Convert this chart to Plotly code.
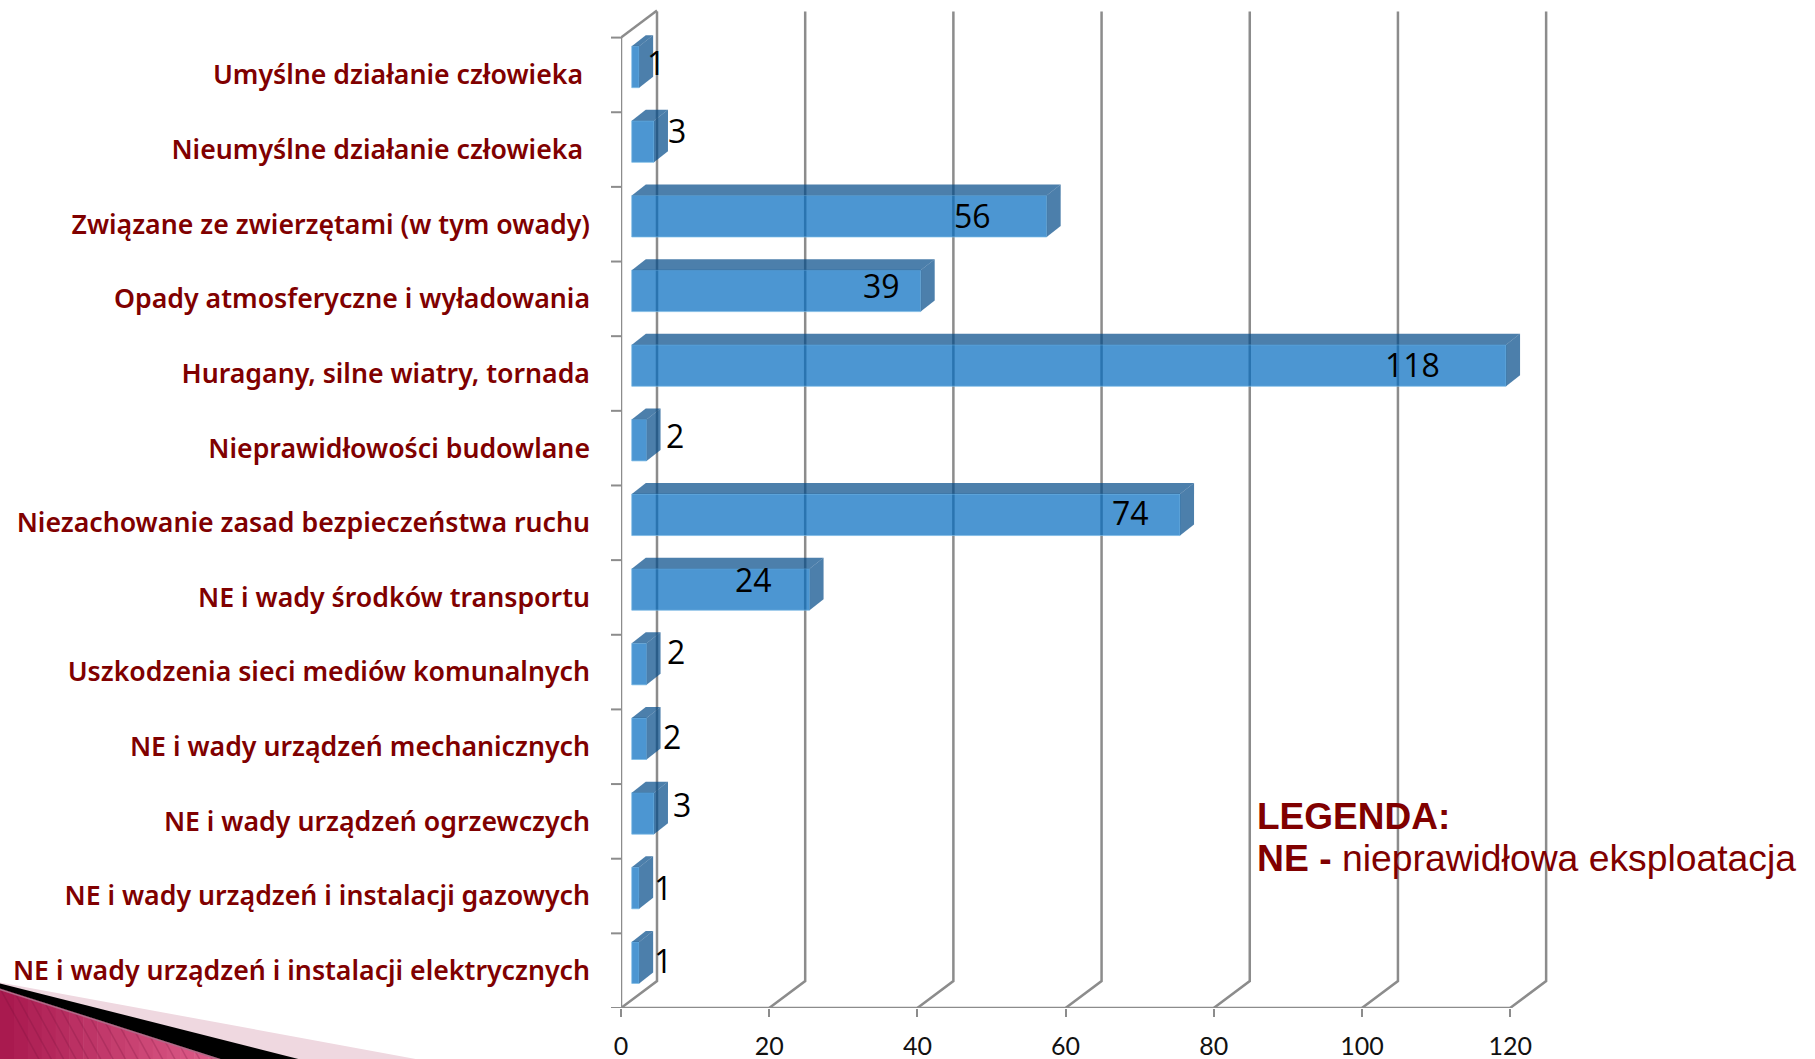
import plotly.graph_objects as go

categories = [
    "Umyślne działanie człowieka\u00a0",
    "Nieumyślne działanie człowieka\u00a0",
    "Związane ze zwierzętami (w tym owady)",
    "Opady atmosferyczne i wyładowania",
    "Huragany, silne wiatry, tornada",
    "Nieprawidłowości budowlane",
    "Niezachowanie zasad bezpieczeństwa ruchu",
    "NE i wady środków transportu",
    "Uszkodzenia sieci mediów komunalnych",
    "NE i wady urządzeń mechanicznych",
    "NE i wady urządzeń ogrzewczych",
    "NE i wady urządzeń i instalacji gazowych",
    "NE i wady urządzeń i instalacji elektrycznych",
]
values = [1, 3, 56, 39, 118, 2, 74, 24, 2, 2, 3, 1, 1]
x_ticks = [0, 20, 40, 60, 80, 100, 120]

W, H = 1815, 1059
X0, X120 = 620.9, 1509.9
YTOP, YBOT = 38.0, 1007.6
SLOT = (YBOT - YTOP) / 13
PX = (X120 - X0) / 120
XMAX = 127
Y_EXT = 0.45
PL_R = X0 + XMAX * PX
PL_T = YTOP - Y_EXT * SLOT

BASE = 1.45
BAR_W = 0.556
BAR_SHIFT = -0.107
DX, DY = 14, 11
WALL_DX, WALL_DY = 36, 27
GREY = "#8c8c8c"
MAROON = "#800000"
FRONT = "rgba(0,106,191,0.7)"
SIDE = "rgba(0,72,135,0.7)"
LABEL_DX = [17, 23, -74, -39, -94, 28, -50, -56, 29, 25, 28, 24, 24]
LABEL_DY = [12, 19, 9, 13, 9, 13, 10, 18, 21, 10, 17, 9, 10]

pw = PL_R - X0
ph = YBOT - PL_T
px2paper = lambda x: (x - X0) / pw
py2paper = lambda y: (YBOT - y) / ph

fig = go.Figure()
fig.add_trace(go.Bar(
    y=list(range(13)), x=values, base=BASE, orientation="h",
    width=BAR_W, offset=-BAR_W / 2 + BAR_SHIFT,
    marker=dict(color=FRONT, line=dict(width=1, color="rgba(120,185,230,0.7)")), hoverinfo="skip",
))

shapes = []
def corner(points, color):
    path = "M" + " L".join(f"{px2paper(a):.5f} {py2paper(b):.5f}" for a, b in points) + " Z"
    shapes.append(dict(type="path", xref="paper", yref="paper", path=path,
                       fillcolor=color, line=dict(width=0), layer="below"))

def edge(x):
    return 988 + x * 71 / 222

corner([(0, 982), (418, 1059), (0, 1059)], "#efd8e0")
n = 16
for k in range(n):
    x1, x2 = 222 * k / n, 222 * (k + 1) / n
    t = (k + .5) / n
    c = f"rgb({int(168+56*t)},{int(24+72*t)},{int(78+62*t)})"
    corner([(x1, edge(x1)), (x2 + .5, edge(x2)), (x2 + .5, 1059), (x1, 1059)], c)
for k in range(0, 15):
    xs = 15 * k
    ys = edge(xs)
    xe = xs + (1059 - ys) * 0.55
    shapes.append(dict(type="line", xref="paper", yref="paper",
                       x0=px2paper(xs), y0=py2paper(ys), x1=px2paper(xe), y1=py2paper(1059),
                       line=dict(color="rgba(110,15,55,0.22)", width=1.5), layer="below"))
shapes.append(dict(type="line", xref="paper", yref="paper",
                   x0=px2paper(0), y0=py2paper(edge(0) + 1), x1=px2paper(222), y1=py2paper(edge(222) + 1),
                   line=dict(color="#b06a88", width=1.5), layer="below"))
corner([(0, 983), (300, 1059), (222, 1059), (0, 988)], "#000000")

def anchored(xa, ya, path, **kw):
    shapes.append(dict(type="path", xref="x", yref="y", xsizemode="pixel", ysizemode="pixel",
                       xanchor=xa, yanchor=ya, path=path, **kw))

for t in x_ticks:
    anchored(t, 12.5, f"M0 0 L{WALL_DX} {WALL_DY} L{WALL_DX} {YBOT - YTOP + WALL_DY}",
             line=dict(color=GREY, width=2.5), layer="below")
anchored(0, -0.5, f"M0 0 L{WALL_DX} {WALL_DY}", line=dict(color=GREY, width=2.5), layer="below")
shapes.append(dict(type="line", xref="x", yref="y", x0=0, x1=0, y0=-0.5, y1=12.5,
                   line=dict(color=GREY, width=2.5), layer="below"))
shapes.append(dict(type="line", xref="x", yref="y", x0=0, x1=120, y0=12.5, y1=12.5,
                   line=dict(color=GREY, width=2.5), layer="below"))

half = BAR_W * SLOT / 2
for i, v in enumerate(values):
    xa = v + BASE
    ya = i + BAR_SHIFT
    anchored(xa, ya, f"M0 {-half} L{DX} {-half + DY} L{DX} {half + DY} L0 {half} Z",
             fillcolor=SIDE, line=dict(width=0), layer="above")
    w = v * PX
    anchored(xa, ya, f"M0 {half} L{DX} {half + DY} L{DX - w} {half + DY} L{-w} {half} Z",
             fillcolor=SIDE, line=dict(width=0), layer="above")

annotations = []
for i, v in enumerate(values):
    annotations.append(dict(x=v + BASE, y=i, xref="x", yref="y", text=str(v), showarrow=False,
                            xshift=LABEL_DX[i], yshift=LABEL_DY[i], xanchor="center", yanchor="middle",
                            font=dict(family="Open Sans", size=32, color="#000000")))
annotations.append(dict(x=px2paper(1255), y=py2paper(816), xref="paper", yref="paper", showarrow=False,
                        xanchor="left", yanchor="middle", text="<b>LEGENDA:</b>",
                        font=dict(family="Liberation Sans", size=37, color=MAROON)))
annotations.append(dict(x=px2paper(1255), y=py2paper(858), xref="paper", yref="paper", showarrow=False,
                        xanchor="left", yanchor="middle", text="<b>NE - </b>nieprawidłowa eksploatacja",
                        font=dict(family="Liberation Sans", size=37.3, color=MAROON)))

for b in range(14):
    shapes.append(dict(type="line", xref="paper", yref="y", x0=-10 / pw, x1=0, y0=b - .5, y1=b - .5,
                       line=dict(color=GREY, width=2), layer="below"))

fig.update_layout(
    width=W, height=H, autosize=False, showlegend=False,
    paper_bgcolor="white", plot_bgcolor="white",
    margin=dict(l=X0, r=W - PL_R, t=PL_T, b=H - YBOT, pad=0, autoexpand=False),
    shapes=shapes, annotations=annotations,
    xaxis=dict(range=[0, XMAX], tickmode="array", tickvals=x_ticks, ticktext=[str(t) for t in x_ticks],
               showgrid=False, zeroline=False, showline=False, ticks="outside", ticklen=8, tickwidth=2,
               tickcolor=GREY, tickfont=dict(family="Lato", size=25, color="#111111"),
               ticklabelstandoff=8, automargin=False),
    yaxis=dict(range=[12.5, -0.5 - Y_EXT], tickmode="array", tickvals=list(range(13)), ticktext=categories,
               showgrid=False, zeroline=False, showline=False, ticks="", automargin=False,
               tickfont=dict(family="Noto Sans", size=26.7, color=MAROON, weight=600), ticklabelstandoff=30),
)
fig.write_html("out.html", config=dict(displayModeBar=False), post_script="document.body.style.margin='0';")
